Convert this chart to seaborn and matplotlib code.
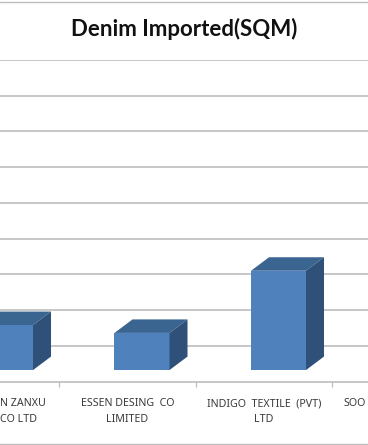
import matplotlib
matplotlib.use("Agg")
import matplotlib.pyplot as plt
from matplotlib.lines import Line2D
from matplotlib.patches import Polygon
import pandas as pd
import seaborn as sns

# Only the parts visible in the crop: left and right labels are cut by the image edge
categories = ["ZANXU", "ESSEN", "INDIGO"]
values = [1.26, 1.04, 2.78]          # bar heights, in gridline steps (no value axis is shown)
full_labels = ["ESSEN DESING  CO\nLIMITED", "INDIGO  TEXTILE  (PVT)\nLTD"]
cut_left_label = "N ZANXU\nCO LTD"
cut_right_label = "SOO"
title = "Denim Imported(SQM)"

W, H = 368, 445
sns.set_theme(style="white")
plt.rcParams["font.family"] = ["Noto Sans", "DejaVu Sans"]

fig = plt.figure(figsize=(W / 100, H / 100), dpi=100)
ax = fig.add_axes([0, (H - 381.5) / H, 1, (381.5 - 60) / H])

FRONT, TOP, SIDE = "#4F81BD", "#3A6591", "#2F5079"
GRID = "#BDBDBD"
FLOOR = 0.32
LABEL_SIZE = 7.7
LABEL_COLOR = "#3A3A3A"
LABEL_SPACING = 1.6

df = pd.DataFrame({"c": categories, "v": values})
sns.barplot(data=df, x="c", y="v", color=FRONT, saturation=1, width=0.403,
            bottom=FLOOR, ax=ax, zorder=3, linewidth=0)

ax.set_xlim(-5.5 / 136.5, 362.5 / 136.5)
ax.set_ylim(0, 9)

# 3-D faces derived from each drawn bar
dx, dy = 18 / 136.5, 13.5 / 35.7
for p in ax.patches[:]:
    x0, x1 = p.get_x(), p.get_x() + p.get_width()
    y0, y1 = p.get_y(), p.get_y() + p.get_height()
    ax.add_patch(Polygon([(x0, y1), (x1, y1), (x1 + dx, y1 + dy), (x0 + dx, y1 + dy)],
                         fc=TOP, ec="none", zorder=3))
    ax.add_patch(Polygon([(x1, y0), (x1 + dx, y0 + dy), (x1 + dx, y1 + dy), (x1, y1)],
                         fc=SIDE, ec="none", zorder=3))

ax.set_axisbelow(True)
ax.set_yticks(range(1, 10))
ax.tick_params(axis="y", left=False, labelleft=False)
ax.yaxis.grid(True, color=GRID, lw=1.2)
ax.xaxis.grid(False)
for s in ("left", "right", "top"):
    ax.spines[s].set_visible(False)
ax.spines["bottom"].set_color(GRID)
ax.spines["bottom"].set_linewidth(1.2)
ax.set_xlabel("")
ax.set_ylabel("")

# Ticks sit between categories, shifted left of the bars by the 3-D floor depth
shift = -0.106
ax.set_xticks([0.5 + shift, 1.5 + shift, 2.5 + shift])
ax.set_xticklabels([])
ax.tick_params(axis="x", bottom=True, length=3.6, width=0.9, color=GRID)
ax.set_xticks([1 + shift, 2 + shift], minor=True)
ax.set_xticklabels(full_labels, minor=True, fontsize=LABEL_SIZE, color=LABEL_COLOR, linespacing=LABEL_SPACING)
ax.tick_params(axis="x", which="minor", bottom=False, length=0, pad=12)

trans = ax.get_xaxis_transform()
lo, hi = ax.get_xlim()
ax.annotate(cut_left_label, xy=(lo, 0), xycoords=trans, xytext=(0, -12), textcoords="offset points",
            ha="left", va="top", fontsize=LABEL_SIZE, color=LABEL_COLOR, linespacing=LABEL_SPACING, annotation_clip=False)
ax.annotate(cut_right_label, xy=(hi, 0), xycoords=trans, xytext=(-17.3, -12), textcoords="offset points",
            ha="left", va="top", fontsize=LABEL_SIZE, color=LABEL_COLOR, annotation_clip=False)

ax.set_title(title, fontsize=16, fontweight="bold", family=["Lato", "DejaVu Sans"], color="#111111", pad=17.5)

fig.add_artist(Line2D([0, 1], [1 - 1.5 / H] * 2, color=GRID, lw=1.0))
fig.add_artist(Line2D([0, 1], [1 - 443.5 / H] * 2, color=GRID, lw=1.0))

fig.savefig("out.png", dpi=100, facecolor="white")
